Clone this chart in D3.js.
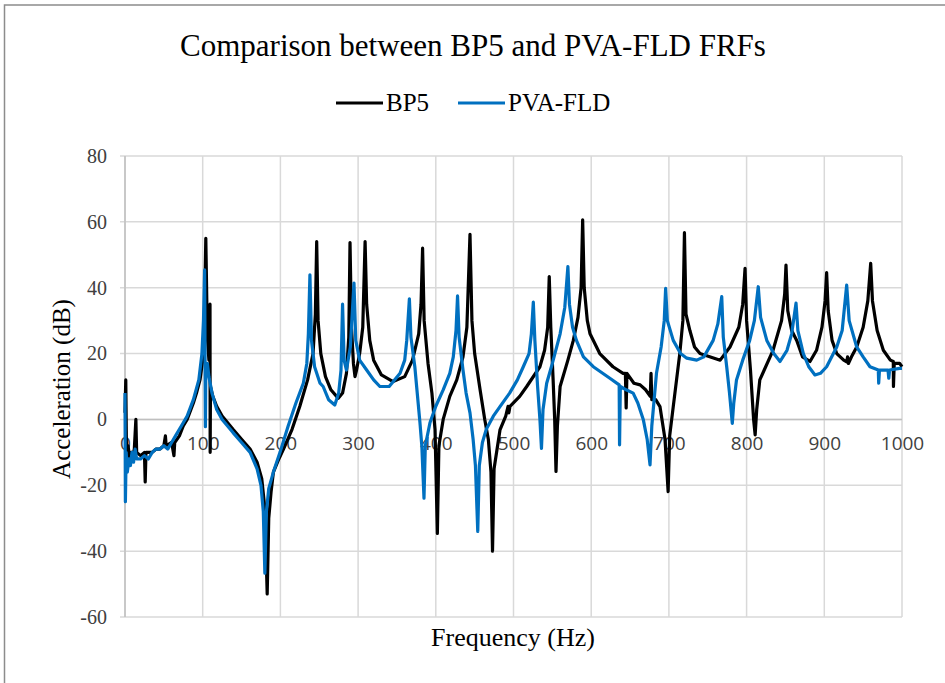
<!DOCTYPE html>
<html><head><meta charset="utf-8">
<script src="https://cdn.jsdelivr.net/npm/d3@7"></script>
<style>body{margin:0;background:#fff}svg{display:block}</style>
</head><body><svg id="c" width="945" height="683"></svg>
<script>
const title = "Comparison between BP5 and PVA-FLD FRFs";
const seriesNames = ["BP5", "PVA-FLD"];
const xTicks = [0,100,200,300,400,500,600,700,800,900,1000];
const yTicks = [-60,-40,-20,0,20,40,60,80];

const bp5Freq = [0,1,2,4,6,8,10,12,14,15,20,25,26,27,35,40,45,50,52,53,60,63,64,70,75,80,88,92,96.5,100,102,104,106,108,109.4,109.6,110,113,118,125,139,150,161,170,176,180,183,185,188,191,198,204,215,225,235,242,245,246.7,248.5,252,258,265,274.5,280,285,288,289.6,291.5,294,296,298,302,306,309,311,315,320,330,345,360,370,378,381,383,385,390,395,399,402,404,409.5,418,427,435,440,444,446.5,450,457,463,467.6,471,473,475,482.6,490,493,494,495.5,508,517,534,540,544,546,548,551,553,554.7,556.5,560,570,577,583,587,589,591,595,598.5,611,628,641,644,645,646,655,663,670,676,677,678,683,688.5,695,699,701,705.6,714,718,720,722,727,733,740,766,778.6,790,795,798,800,805,809,811,813,817,834,845,849,850.7,853,858,864.5,872,881.6,890,897,901,903,905,910,916,925,928.8,930,931,935,941.7,950,956,959.7,962,968,976,985,988.8,989,990,997,1000];
const bp5Db = [2,12,-12,-8,-12,-10,-11,-9,0,-10,-11,-10,-19,-10,-10,-9,-9,-8,-5,-8,-7,-11,-7,-5,-2,0,5,8,12,18,28,55,25,18,35,-10,10,7,4,1,-3,-6,-9,-13,-18,-27,-53,-30,-22,-16,-12,-9,-3,4,12,20,32,54,30,20,13,9,6.4,8,14,25,53.7,28,17,13,15,20,28,54,35,24,18,13.5,11.5,13,18,26,35,52,30,17,8,-3,-34.6,-8,0,7,12,19,28,56.2,30,20,9,0,-6,-16,-40,-15,-3.2,1,4,2,4,7,10,16,21,28,43.4,28,12,0,-15.8,-2,10,18,24,31,40,60.6,40,30,26,20,16,14,14,3.5,14,11,10.5,9,7,14,6,6,3.9,-6,-21.9,-5,3.9,20,30,56.7,32,27,22,20,18,22,28,35,45.9,30,15,0,-4.7,3,12,21,30,38,46.9,33,27,24,19,17.6,21,28,36,44.6,33,24,20,18,17.5,19,17,19,22,28,36,47.4,36,27,21,18,17.6,10,17,17,16];

const pvaFreq = [0,0.5,1.5,3,5,7,9,11,13,15,20,25,30,35,40,45,50,55,60,65,70,75,80,88,95,99,101,102.5,103,103.5,104,106,108,112,118,125,139,150,161,170,175,178,180,182,185,191,199.5,210,220,229.5,234,236,238,240,244,251,255,262,270,275,278,280,282,285,290,294.7,297,302,311,320,328,340,354,360,362.6,366,368,373,379.6,382,384.8,386.5,392.5,400,409.5,418,422.5,426,428,430,435,439,444,448,451,454,456,460,465,474,482.6,495,505,512.6,520,523,525.5,527.5,531,534,536,538,542.7,550,560,566,570,572,576,581,590,602.7,624,636,636.5,637.5,645,654,660,667,672,675.7,678,684,690,694,695.8,698,705.6,715,723,735.8,745,757,763,768,770,774.4,778,781.6,783.5,787,795,804,810,815,818,826,835,843,852,858,863.6,866,873,880,888,895,903,916,923,928.8,932,941.7,950,958.8,969.5,970,971,982,983,984,997,1000];
const pvaDb = [8,-25,-10,-16,-12,-14,-10,-13,-9,-12,-12,-11,-12,-10,-9,-9,-8,-9,-7,-5,-3,-1,1,6,12,20,30,45.4,20,-2.2,15,17,13,8,3,0,-4,-7,-10,-15,-20,-28,-46.7,-28,-21,-16,-10,-2,5,11,17,26,43.9,24,16,11,10,6,4.4,8,15,35,18,15,22,41.4,24,18,15,12,10,10,14,18,24,36.6,25,16,-1,-8,-23.9,-8,-1,4,9,14,19,27,37.5,25,15,8,2,-6,-14,-34,-14,-7,-3,1,3.9,8,12,16,20,26,35.6,24,10,0,-8.8,3,11,17,26,34,46.4,35,28,24,19,16,12.5,10.5,-7.7,10,9,8,5,0,-6,-13.8,-2,14,22,30,39.8,30,24,20,18.6,18,19,24,29,37.3,25,16,8,-1.2,5,12,18,24,30,40.3,31,24,20,17.6,21,26,35.3,27,20,16,13.5,14,16,22,27,40.8,30,22,19,16,15,11,15,15,12.5,15,15.5,15.5];

const colors = ["#000000", "#0070C0"];

const svg = d3.select("#c");
const L = 125, R = 902, T = 156, B = 617;
const x = d3.scaleLinear().domain([0,1000]).range([L,R]);
const y = d3.scaleLinear().domain([-60,80]).range([B,T]);

// outer border
svg.append("rect").attr("x",4.5).attr("y",5).attr("width",960).attr("height",700)
  .attr("fill","none").attr("stroke","#8c8c8c").attr("stroke-width",1.5);

// gridlines
const g = svg.append("g");
g.selectAll(".hg").data(yTicks).join("line")
  .attr("x1",L-5).attr("x2",R).attr("y1",d=>y(d)).attr("y2",d=>y(d))
  .attr("stroke","#d9d9d9").attr("stroke-width",1.5);
g.selectAll(".vg").data(xTicks).join("line")
  .attr("x1",d=>x(d)).attr("x2",d=>x(d)).attr("y1",T).attr("y2",B)
  .attr("stroke","#d9d9d9").attr("stroke-width",1.5);
g.append("line").attr("x1",L).attr("x2",L).attr("y1",T).attr("y2",B)
  .attr("stroke","#bfbfbf").attr("stroke-width",1.5);
g.append("line").attr("x1",L).attr("x2",R).attr("y1",y(0)).attr("y2",y(0))
  .attr("stroke","#bfbfbf").attr("stroke-width",1.5);

const fmt = d => String(d);
const serif = "'Liberation Serif', 'Times New Roman', serif";

const yAxis = d3.axisLeft(y).tickValues(yTicks).tickFormat(fmt).tickSize(0).tickPadding(18);
const ya = svg.append("g").attr("transform",`translate(${L},0)`).call(yAxis);
ya.select(".domain").remove();
ya.selectAll("text").attr("font-family",serif)
  .attr("font-size","20px").attr("fill","#404040");

const xAxis = d3.axisBottom(x).tickValues(xTicks).tickFormat(fmt).tickSize(0).tickPadding(17);
const xa = svg.append("g").attr("transform",`translate(0,${y(0)})`).call(xAxis);
xa.select(".domain").remove();
xa.selectAll("text").attr("font-family","'Open Sans', 'Liberation Sans', sans-serif")
  .attr("font-size","19px").attr("fill","#404040");

const line = d3.line().x(d=>x(d[0])).y(d=>y(d[1]));
const bp5 = bp5Freq.map((f,i)=>[f,bp5Db[i]]);
const pva = pvaFreq.map((f,i)=>[f,pvaDb[i]]);
svg.append("path").datum(bp5).attr("d",line).attr("fill","none")
  .attr("stroke",colors[0]).attr("stroke-width",3.2).attr("stroke-linejoin","round");
svg.append("path").datum(pva).attr("d",line).attr("fill","none")
  .attr("stroke",colors[1]).attr("stroke-width",3.2).attr("stroke-linejoin","round");

svg.append("text").attr("x",473).attr("y",56).attr("text-anchor","middle")
  .attr("font-family",serif).attr("font-size","31px").attr("fill","#000").text(title);

const leg = svg.append("g");
const legX = [336, 458];
seriesNames.forEach((n,i)=>{
  leg.append("line").attr("x1",legX[i]).attr("x2",legX[i]+47).attr("y1",103).attr("y2",103)
    .attr("stroke",colors[i]).attr("stroke-width",3.2);
  leg.append("text").attr("x",legX[i]+50).attr("y",111).attr("font-family",serif)
    .attr("font-size","25px").attr("fill","#000").text(n);
});

svg.append("text").attr("x",513).attr("y",646).attr("text-anchor","middle")
  .attr("font-family",serif).attr("font-size","26px").attr("fill","#000").text("Frequency (Hz)");
svg.append("text").attr("transform","translate(70,389) rotate(-90)").attr("text-anchor","middle")
  .attr("font-family",serif).attr("font-size","25px").attr("fill","#000").text("Acceleration (dB)");
</script></body></html>
